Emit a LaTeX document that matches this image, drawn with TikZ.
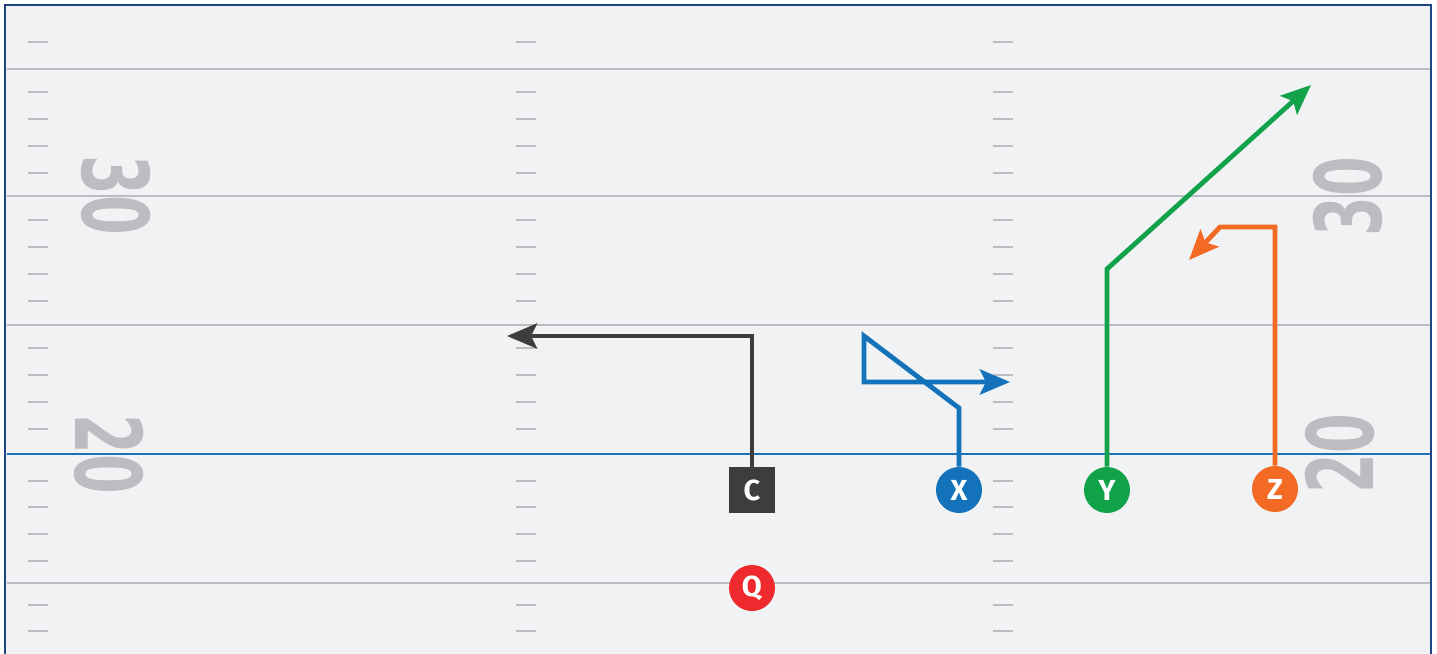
\documentclass[tikz,border=0pt]{standalone}
\usepackage{fontspec}
\setmainfont{Fira Sans}
\newfontfamily\numfont{DejaVu Sans}
\usetikzlibrary{arrows.meta}
\definecolor{turf}{HTML}{F1F2F4}
\definecolor{rim}{HTML}{1E4583}
\definecolor{chalk}{HTML}{BCBDC0}
\definecolor{losblue}{HTML}{1A72B9}
\definecolor{cgray}{HTML}{3D3D3D}
\definecolor{xblue}{HTML}{1372BA}
\definecolor{ygreen}{HTML}{12A24A}
\definecolor{zorange}{HTML}{F26A23}
\definecolor{qred}{HTML}{EE2A2E}
\tikzset{
	player/.style={circle, minimum size=23pt, inner sep=0pt, text=white, font=\bfseries\fontsize{14.5}{14.5}\selectfont},
	route/.style={line width=2.4pt, -{Stealth[length=15pt, width=12.5pt, inset=3pt]}},
	yardline/.style={line width=1.2pt, color=chalk},
	hashmark/.style={line width=1.1pt, color=chalk},
	yardnum/.style={text=chalk, inner sep=0pt, font=\numfont\bfseries\fontsize{46}{46}\selectfont}
}
\newcommand{\narrow}[1]{\scalebox{0.62}[1]{#1}}

\begin{document}
\begin{tikzpicture}[x=0.5pt, y=-0.5pt]
			%%%%% FIELD %%%%%
			\useasboundingbox (0, 0) rectangle (1437, 654);
			\fill[white] (0, 0) rectangle (1437, 654);
			\draw[line width=1.25pt, color=rim, fill=turf] (5, 5) rectangle (1431, 680);
			
			\draw[yardline] (7, 69) -- (1430, 69);
			\draw[yardline] (7, 196) -- (1430, 196);
			\draw[yardline] (7, 325) -- (1430, 325);
			\draw[yardline] (7, 583) -- (1430, 583);
			\draw[line width=1.2pt, color=losblue] (7, 454) -- (1430, 454);
			
			\foreach \y in {42, 92, 119, 146, 173, 220, 247, 274, 301, 348, 375, 402, 429, 481, 507, 534, 561, 605, 631} {
				\draw[hashmark] (28, \y) -- (48, \y);
				\draw[hashmark] (516, \y) -- (536, \y);
				\draw[hashmark] (993, \y) -- (1013, \y);
			}
			
			\node[yardnum, rotate=-90] (num30l) at (116, 195) {\narrow{30}};
			\node[yardnum, rotate=-90] (num20l) at (109, 454) {\narrow{20}};
			\node[yardnum, rotate=90] (num30r) at (1348, 197) {\narrow{30}};
			\node[yardnum, rotate=90] (num20r) at (1340, 454) {\narrow{20}};
			
			%%%%% PLAYERS %%%%%
			\node[player, rectangle, fill=cgray] (C) at (752, 490) {C};
			\node[player, fill=xblue] (X) at (959, 490) {X};
			\node[player, fill=ygreen] (Y) at (1107, 490) {Y};
			\node[player, fill=zorange] (Z) at (1275, 489) {Z};
			\node[player, fill=qred] (Q) at (752, 588) {Q};
			
			%%%%% ROUTES %%%%%
			\coordinate (cEnd) at (507, 336);
			\coordinate (xBreak) at (959, 408);
			\coordinate (xTurn) at (864, 336);
			\coordinate (xStem) at (864, 382);
			\coordinate (xEnd) at (1010, 382);
			\coordinate (yBreak) at (1107, 269);
			\coordinate (yEnd) at (1311, 85);
			\coordinate (zTop) at (1275, 227);
			\coordinate (zCorner) at (1220, 227);
			\coordinate (zEnd) at (1189, 260);
			
			\draw[route, color=cgray] (C.north) |- (cEnd);
			\draw[route, color=xblue] (X.north) -- (xBreak) -- (xTurn) -- (xStem) -- (xEnd);
			\draw[route, color=ygreen] (Y.north) -- (yBreak) -- (yEnd);
			\draw[route, color=zorange] (Z.north) -- (zTop) -- (zCorner) -- (zEnd);
			
			%%%%% END %%%%%
\end{tikzpicture}
\end{document}
